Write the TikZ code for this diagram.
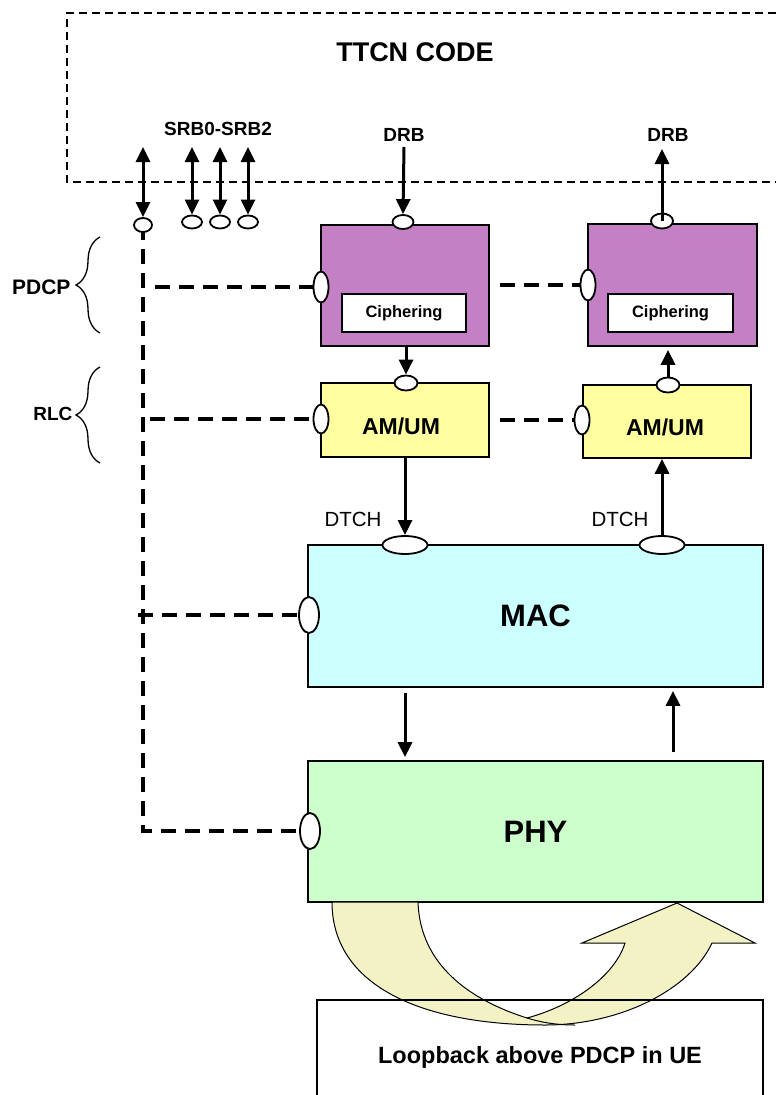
\documentclass[tikz,border=0pt]{standalone}
\usepackage{fontspec}
\setmainfont{Liberation Sans}
\usetikzlibrary{shapes.geometric,arrows.meta,decorations.pathreplacing,backgrounds}

\definecolor{pdcpfill}{RGB}{196,128,196}
\definecolor{rlcfill}{RGB}{255,255,160}
\definecolor{macfill}{RGB}{204,255,255}
\definecolor{phyfill}{RGB}{204,255,204}
\definecolor{loopfill}{RGB}{242,242,196}

\begin{document}
\begin{tikzpicture}[x=1pt,y=-1pt,
    block/.style={draw,line width=1.7pt,inner sep=0pt},
    port/.style={ellipse,draw,fill=white,line width=1.8pt,inner sep=0pt},
    sig/.style={line width=3pt,-{Triangle[length=15pt,width=14pt]}},
    both/.style={line width=3pt,{Triangle[length=15pt,width=14pt]}-{Triangle[length=15pt,width=14pt]}},
    ctrl/.style={line width=3.8pt,dash pattern=on 15pt off 9pt},
    lbl/.style={font=\fontsize{19}{22}\selectfont\bfseries}]
\useasboundingbox (0,0) rectangle (776,1095);

% TTCN side
\draw[line width=1.4pt,dash pattern=on 8pt off 5pt] (776,13) -- (67,13) -- (67,182) -- (776,182);
\node[font=\fontsize{27}{30}\selectfont\bfseries] (ttcn) at (415,52) {TTCN CODE};
\node[lbl] (srb) at (218,129) {SRB0-SRB2};
\node[lbl] (drbA) at (404,135) {DRB};
\node[lbl] (drbB) at (668,135) {DRB};

% blocks
\node[block,fill=pdcpfill,minimum width=168,minimum height=121] (pdcpA) at (405,285.5) {};
\node[block,fill=pdcpfill,minimum width=169,minimum height=122] (pdcpB) at (672.5,285) {};
\node[block,fill=white,minimum width=124,minimum height=38,font=\fontsize{16.5}{18}\selectfont\bfseries] (ciphA) at (404,313) {Ciphering};
\node[block,fill=white,minimum width=125,minimum height=38,font=\fontsize{16.5}{18}\selectfont\bfseries] (ciphB) at (670.5,313) {Ciphering};
\node[block,fill=rlcfill,minimum width=168,minimum height=74] (rlcA) at (405,420) {};
\node[block,fill=rlcfill,minimum width=168,minimum height=73] (rlcB) at (667,421.5) {};
\node[font=\fontsize{23}{26}\selectfont\bfseries] (amA) at (401,426) {AM/UM};
\node[font=\fontsize{23}{26}\selectfont\bfseries] (amB) at (665,427) {AM/UM};
\node[block,fill=macfill,minimum width=455,minimum height=142,font=\fontsize{31}{34}\selectfont\bfseries] (mac) at (535.5,616) {MAC};
\node[block,fill=phyfill,minimum width=455,minimum height=141,font=\fontsize{31}{34}\selectfont\bfseries] (phy) at (535.5,831.5) {PHY};

% ports
\node[port,minimum width=18,minimum height=14] (pa) at (143,225) {};
\node[port,minimum width=20,minimum height=13] (s1) at (192,222) {};
\node[port,minimum width=20,minimum height=13] (s2) at (220,222) {};
\node[port,minimum width=20,minimum height=13] (s3) at (248,222) {};
\node[port,minimum width=21,minimum height=14] (drbAp) at (403,222) {};
\node[port,minimum width=22,minimum height=15] (drbBp) at (662,221) {};
\node[port,minimum width=15,minimum height=31] (pdcpAp) at (321,287) {};
\node[port,minimum width=15,minimum height=31] (pdcpBp) at (588,285) {};
\node[port,minimum width=23,minimum height=15] (rlcAt) at (406,383) {};
\node[port,minimum width=23,minimum height=15] (rlcBt) at (668,385) {};
\node[port,minimum width=15,minimum height=29] (rlcAp) at (321,419) {};
\node[port,minimum width=15,minimum height=29] (rlcBp) at (582,420) {};
\node[port,minimum width=45,minimum height=18] (macA) at (405,545) {};
\node[port,minimum width=45,minimum height=18] (macB) at (662,545) {};
\node[port,minimum width=20,minimum height=36] (macp) at (309,615) {};
\node[port,minimum width=20,minimum height=36] (phyp) at (310,831) {};

\node[font=\fontsize{20.5}{23}\selectfont] (dtchA) at (353,519) {DTCH};
\node[font=\fontsize{20.5}{23}\selectfont] (dtchB) at (620,519) {DTCH};

% control lines, kept under the ports
\coordinate (cp) at (155,287);
\coordinate (cr) at (150,419);
\coordinate (cm) at (138,615);
\coordinate (cpB) at (500,285);
\coordinate (crB) at (500,420);
\begin{scope}[on background layer]
\draw[ctrl] (pa.center) |- (phyp.center);
\draw[ctrl] (cp) -- (pdcpAp.center);
\draw[ctrl] (cr) -- (rlcAp.center);
\draw[ctrl] (cm) -- (macp.center);
\draw[ctrl] (cpB) -- (pdcpBp.center);
\draw[ctrl] (crB) -- (rlcBp.center);
\end{scope}

% free ends up in the TTCN box
\coordinate (ta) at (143,147);
\coordinate (t1) at (192,147);
\coordinate (t2) at (220,147);
\coordinate (t3) at (248,147);
\coordinate (tA) at (404,147);
\coordinate (tB) at (662,149);

\draw[both] (ta) -- (pa.north);
\draw[both] (t1) -- (s1.north);
\draw[both] (t2) -- (s2.north);
\draw[both] (t3) -- (s3.north);
\draw[sig] (tA) -- (drbAp.north);
\draw[sig] (drbBp.center) -- (tB);
\draw[sig] (pdcpA.south -| rlcAt) -- (rlcAt.north);
\draw[sig] (rlcBt.north) -- ([yshift=-3pt]pdcpB.south -| rlcBt);
\draw[sig] (rlcA.south -| macA) -- (macA.north);
\draw[sig] (macB.north) -- (rlcB.south -| macB);
\draw[sig] ([yshift=-5pt]mac.south -| macA) -- ([yshift=3pt]phy.north -| macA);
\draw[sig] ([yshift=8pt]phy.north -| 673,0) -- ([yshift=-3pt]mac.south -| 673,0);

% layer braces
\draw[line width=1.3pt,decorate,decoration={brace,amplitude=24pt}] (100,333) -- (100,237);
\draw[line width=1.3pt,decorate,decoration={brace,amplitude=24pt}] (100,463) -- (100,367);
\node[font=\fontsize{21}{24}\selectfont\bfseries,anchor=east] (pdcp) at (74,287) {PDCP};
\node[lbl,anchor=east] (rlc) at (76,414) {RLC};

% loopback
\filldraw[fill=loopfill,line width=1pt] (332,902) .. controls (332,985) and (420,1025) .. (545,1025)
  .. controls (620,1025) and (690,990) .. (712,943) -- (755,943) -- (677,903) -- (582,943) -- (625,943)
  .. controls (615,975) and (575,1005) .. (527,1018)
  .. controls (470,1000) and (420,965) .. (418,902) -- cycle;
\draw[line width=1pt] (527,1018) .. controls (540,1022) and (555,1025) .. (575,1025);
\node[block,line width=1.2pt,minimum width=446,minimum height=114,font=\fontsize{23.5}{27}\selectfont\bfseries] (loop) at (540,1057) {Loopback above PDCP in UE};
\end{tikzpicture}
\end{document}
